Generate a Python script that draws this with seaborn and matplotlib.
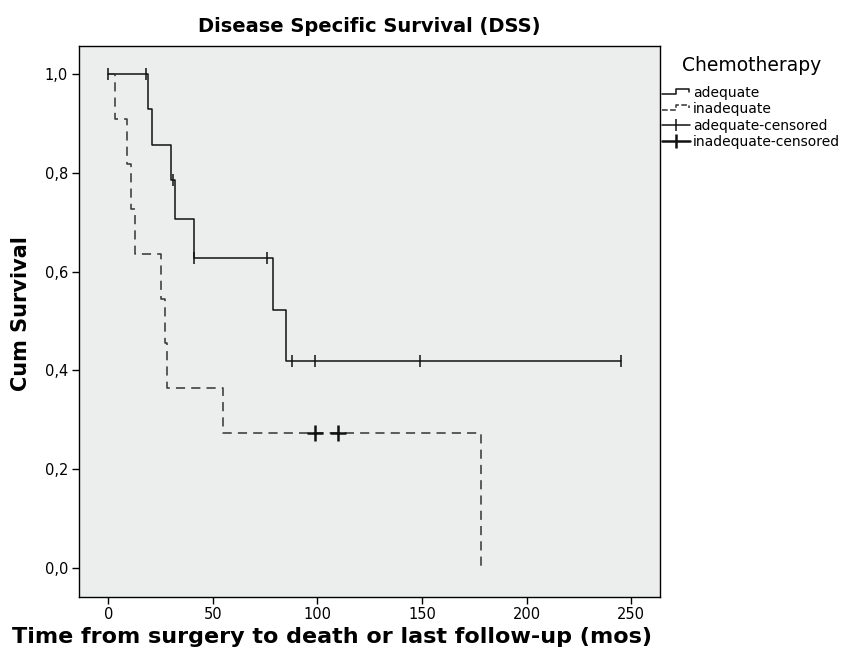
import numpy as np
import pandas as pd
import matplotlib
matplotlib.use("Agg")
import matplotlib.pyplot as plt
import seaborn as sns
from matplotlib.lines import Line2D
from matplotlib.legend_handler import HandlerBase
from matplotlib.ticker import FuncFormatter

# step points of the Kaplan-Meier curves (time in months, cum survival)
adequate_time = [0, 19, 21, 30, 32, 41, 79, 85, 245]
adequate_surv = [1.0, 0.929, 0.857, 0.786, 0.707, 0.628, 0.523, 0.419, 0.419]
adequate_censored = [0, 18, 31, 41, 76, 88, 99, 149, 245]

inadequate_time = [0, 3, 9, 11, 13, 25, 27, 28, 55, 178]
inadequate_surv = [1.0, 0.909, 0.818, 0.727, 0.636, 0.545, 0.455, 0.364, 0.273, 0.0]
inadequate_censored = [99, 110]

y_ticks = [0.0, 0.2, 0.4, 0.6, 0.8, 1.0]
x_ticks = [0, 50, 100, 150, 200, 250]


def surv_at(times, survs, t):
    # value of the step function at time t
    idx = np.searchsorted(times, t, side="right") - 1
    return survs[idx]


df_adequate = pd.DataFrame({"time": adequate_time, "surv": adequate_surv})
df_inadequate = pd.DataFrame({"time": inadequate_time, "surv": inadequate_surv})
cens_adequate = pd.DataFrame({
    "time": adequate_censored,
    "surv": [surv_at(adequate_time, adequate_surv, t) for t in adequate_censored],
})
cens_inadequate = pd.DataFrame({
    "time": inadequate_censored,
    "surv": [surv_at(inadequate_time, inadequate_surv, t) for t in inadequate_censored],
})


class StepHandler(HandlerBase):
    # legend glyph drawn as a small step
    def create_artists(self, legend, orig_handle, xdescent, ydescent,
                       width, height, fontsize, trans):
        x0 = -xdescent
        y0 = -ydescent
        xs = [x0, x0 + 0.5 * width, x0 + 0.5 * width, x0 + 0.95 * width, x0 + 0.95 * width]
        ys = [y0 + 0.3 * height, y0 + 0.3 * height, y0 + 0.8 * height,
              y0 + 0.8 * height, y0 + 0.5 * height]
        line = Line2D(xs, ys, color=orig_handle.get_color(),
                      linestyle=orig_handle.get_linestyle(),
                      linewidth=orig_handle.get_linewidth())
        line.set_transform(trans)
        return [line]


sns.set_theme(style="white")
plt.rcParams["font.family"] = ["DejaVu Sans"]
plt.rcParams["text.color"] = "black"
plt.rcParams["axes.labelcolor"] = "black"
plt.rcParams["xtick.color"] = "black"
plt.rcParams["ytick.color"] = "black"

fig = plt.figure(figsize=(8.59, 6.55), dpi=100)
ax = fig.add_axes([0.092, 0.0885, 0.676, 0.8415])
ax.set_facecolor("#eceeed")

sns.lineplot(data=df_adequate, x="time", y="surv", ax=ax, color="#111111",
             linewidth=1.1, drawstyle="steps-post", estimator=None, sort=False,
             legend=False)
sns.lineplot(data=df_inadequate, x="time", y="surv", ax=ax, color="#333333",
             linewidth=1.1, linestyle=(0, (6, 4)), drawstyle="steps-post",
             estimator=None, sort=False, legend=False)

ax.plot(cens_adequate["time"], cens_adequate["surv"], linestyle="none",
        marker="|", markersize=9, markeredgewidth=1.1, color="#111111")
ax.plot(cens_inadequate["time"], cens_inadequate["surv"], linestyle="none",
        marker="+", markersize=11, markeredgewidth=1.8, color="#111111")

ax.set_xlim(-14, 263.7)
ax.set_ylim(-0.059, 1.057)
ax.set_xticks(x_ticks)
ax.set_yticks(y_ticks)
ax.yaxis.set_major_formatter(FuncFormatter(lambda v, p: f"{v:.1f}".replace(".", ",")))
ax.tick_params(axis="both", which="major", direction="out", length=5, width=1,
               color="black", labelcolor="black", labelsize=10.5,
               bottom=True, left=True, pad=3)
ax.tick_params(axis="x", length=5, pad=2)
for sp in ax.spines.values():
    sp.set_color("black")
    sp.set_linewidth(1.0)

ax.set_title("Disease Specific Survival (DSS)", fontsize=14, fontweight="bold",
             pad=10, color="black")
ax.set_xlabel("Time from surgery to death or last follow-up (mos)", fontsize=16,
              fontweight="bold", labelpad=6, color="black")
ax.set_ylabel("Cum Survival", fontsize=15, fontweight="bold", labelpad=8, color="black")
ax.xaxis.set_label_coords(0.435, -0.055)
ax.yaxis.set_label_coords(-0.082, 0.515)

h_adeq = Line2D([], [], color="#111111", linewidth=1.1)
h_inadeq = Line2D([], [], color="#333333", linewidth=1.1, linestyle=(0, (3, 3)))
h_cens_a = Line2D([], [], color="#111111", linewidth=1.1, marker="|",
                  markersize=9, markeredgewidth=1.1)
h_cens_i = Line2D([], [], color="#111111", linewidth=1.8, marker="|",
                  markersize=10, markeredgewidth=1.8)
leg = fig.legend([h_adeq, h_inadeq, h_cens_a, h_cens_i],
                 ["adequate", "inadequate", "adequate-censored", "inadequate-censored"],
                 handler_map={h_adeq: StepHandler(), h_inadeq: StepHandler()},
                 loc="upper left", bbox_to_anchor=(0.771, 0.914), frameon=False,
                 title="Chemotherapy", title_fontsize=13.5, fontsize=10,
                 handlelength=2.0, handletextpad=0.2, labelspacing=0.18,
                 borderpad=0, borderaxespad=0, numpoints=1, labelcolor="black")
leg.get_title().set_color("black")
# extra room between the legend title and the entries
leg._legend_box.sep = 7.5

fig.savefig("out.png", dpi=100)
